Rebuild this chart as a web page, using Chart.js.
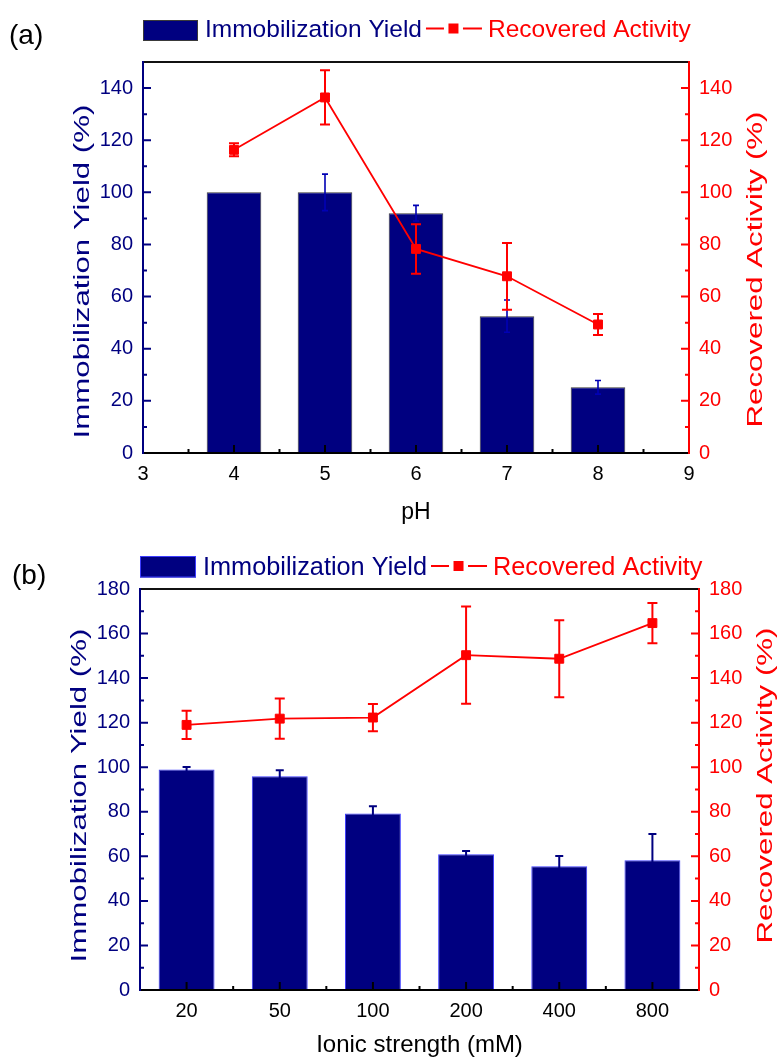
<!DOCTYPE html>
<html>
<head>
<meta charset="utf-8">
<script src="https://cdn.jsdelivr.net/npm/chart.js@4/dist/chart.umd.min.js"></script>
<style>
  html, body { margin: 0; padding: 0; background: #fff; }
  #wrap { position: relative; width: 779px; height: 1057px; }
  canvas { position: absolute; left: 0; }
  #chartA { top: 0; }
  #chartB { top: 530px; }
</style>
</head>
<body>
<div id="wrap">
  <canvas id="chartA" width="779" height="530"></canvas>
  <canvas id="chartB" width="779" height="527"></canvas>
</div>
<script>
// ---- Panel (a): effect of pH ----
const phValues = [4, 5, 6, 7, 8];
const phTicks = [3, 4, 5, 6, 7, 8, 9];
const phYield = [100, 100, 92, 52.5, 25.2];
const phYieldErr = [0, 7, 3, 6.2, 2.6];
const phActivity = [116.3, 136.4, 78.3, 67.8, 49.3];
const phActivityErr = [2.5, 10.4, 9.5, 12.8, 4];

// ---- Panel (b): effect of ionic strength ----
const ionicLabels = ['20', '50', '100', '200', '400', '800'];
const ionicYield = [99, 95.9, 79.2, 60.9, 55.5, 58.2];
const ionicYieldErr = [1.1, 2.7, 3.3, 1.5, 4.7, 11.8];
const ionicActivity = [119, 121.8, 122.3, 150.3, 148.7, 164.7];
const ionicActivityErr = [6.3, 9, 6.1, 21.8, 17.3, 9];

const NAVY = '#000080';
const RED = '#ff0000';
const FAMILY = '"Liberation Sans", Arial, Helvetica, sans-serif';

// Vertical error bars, drawn right after their own dataset
const errorBars = {
  id: 'errorBars',
  afterDatasetDraw(chart, args) {
    const ds = chart.data.datasets[args.index];
    if (!ds.errors) return;
    const meta = args.meta;
    const ys = chart.scales[meta.yAxisID];
    const ctx = chart.ctx;
    ctx.save();
    ctx.strokeStyle = ds.errorColor;
    ctx.lineWidth = ds.errorWidth;
    ctx.lineCap = 'butt';
    meta.data.forEach((el, i) => {
      const e = ds.errors[i];
      if (!e) return;
      const d = ds.data[i];
      const v = typeof d === 'object' ? d.y : d;
      const x = el.x;
      const top = ys.getPixelForValue(v + e);
      const bot = ys.getPixelForValue(v - e);
      const c = ds.capHalf;
      ctx.beginPath();
      ctx.moveTo(x, bot); ctx.lineTo(x, top);
      ctx.moveTo(x - c, top); ctx.lineTo(x + c, top);
      ctx.moveTo(x - c, bot); ctx.lineTo(x + c, bot);
      ctx.stroke();
    });
    ctx.restore();
  }
};

// Axis frame with inward major/minor ticks
const frame = {
  id: 'frame',
  afterDatasetsDraw(chart, args, o) {
    const ctx = chart.ctx;
    const a = chart.chartArea;
    const xs = chart.scales.x, yl = chart.scales.y, yr = chart.scales.y1;
    ctx.save();
    ctx.lineCap = 'butt';
    ctx.lineWidth = 2;
    const vTicks = (scale, x0, dir, color) => {
      ctx.strokeStyle = color;
      ctx.beginPath();
      for (let v = o.yMinor; v < scale.max; v += o.yMinor) {
        const py = scale.getPixelForValue(v);
        const len = (v % o.yMajor === 0) ? 8 : 4;
        ctx.moveTo(x0, py); ctx.lineTo(x0 + dir * len, py);
      }
      ctx.stroke();
    };
    vTicks(yl, a.left, 1, NAVY);
    vTicks(yr, a.right, -1, RED);
    ctx.strokeStyle = '#000';
    ctx.beginPath();
    o.xMajor.forEach(v => {
      const px = xs.getPixelForValue(v);
      ctx.moveTo(px, a.bottom); ctx.lineTo(px, a.bottom - 8);
    });
    o.xMinor.forEach(v => {
      const px = xs.getPixelForValue(v);
      ctx.moveTo(px, a.bottom); ctx.lineTo(px, a.bottom - 4);
    });
    ctx.stroke();
    // frame lines
    ctx.strokeStyle = '#111';
    ctx.beginPath();
    ctx.moveTo(a.left, a.top); ctx.lineTo(a.right, a.top);
    ctx.stroke();
    ctx.strokeStyle = '#000';
    ctx.beginPath();
    ctx.moveTo(a.left, a.bottom); ctx.lineTo(a.right, a.bottom);
    ctx.stroke();
    ctx.strokeStyle = NAVY;
    ctx.beginPath();
    ctx.moveTo(a.left, a.top - 1); ctx.lineTo(a.left, a.bottom + 1);
    ctx.stroke();
    ctx.strokeStyle = RED;
    ctx.beginPath();
    ctx.moveTo(a.right, a.top - 1); ctx.lineTo(a.right, a.bottom + 1);
    ctx.stroke();
    ctx.restore();
  }
};

// Panel label, legend row and axis titles
const deco = {
  id: 'deco',
  afterDraw(chart, args, o) {
    const ctx = chart.ctx;
    const a = chart.chartArea;
    const bar = chart.data.datasets.find(d => d.type === 'bar');
    const line = chart.data.datasets.find(d => d.type === 'line');
    ctx.save();
    // panel label
    ctx.fillStyle = '#000';
    ctx.font = `28px ${FAMILY}`;
    ctx.textBaseline = 'alphabetic';
    ctx.textAlign = 'left';
    ctx.fillText(o.panel, o.panelX, o.panelY);

    // legend
    const L = o.legend;
    ctx.fillStyle = bar.backgroundColor;
    ctx.fillRect(a.left, L.boxTop, L.boxW, L.boxH);
    ctx.strokeStyle = bar.borderColor;
    ctx.lineWidth = 1;
    ctx.strokeRect(a.left + 0.5, L.boxTop + 0.5, L.boxW - 1, L.boxH - 1);
    ctx.font = `${L.size}px ${FAMILY}`;
    let x = a.left + L.boxW + 7;
    ctx.fillStyle = NAVY;
    ctx.fillText(bar.label, x, L.baseline);
    x += ctx.measureText(bar.label).width + 4;
    ctx.strokeStyle = RED;
    ctx.lineWidth = 2;
    ctx.beginPath();
    ctx.moveTo(x, L.lineY); ctx.lineTo(x + 18, L.lineY);
    ctx.moveTo(x + 37, L.lineY); ctx.lineTo(x + 56, L.lineY);
    ctx.stroke();
    ctx.fillStyle = RED;
    ctx.fillRect(x + 22.5, L.lineY - 5, 10, 10);
    x += 62;
    ctx.fillText(line.label, x, L.baseline);

    // bottom title
    ctx.fillStyle = '#000';
    ctx.font = `${o.xTitleSize}px ${FAMILY}`;
    ctx.textAlign = 'center';
    ctx.fillText(o.xTitle, (a.left + a.right) / 2, o.xTitleY);

    // side titles, reading bottom to top
    const side = (text, color, bx, cy) => {
      ctx.save();
      ctx.translate(bx, cy);
      ctx.rotate(-Math.PI / 2);
      ctx.scale(1.42, 1);
      ctx.fillStyle = color;
      ctx.font = `22px ${FAMILY}`;
      ctx.textAlign = 'center';
      ctx.textBaseline = 'alphabetic';
      ctx.fillText(text, 0, 0);
      ctx.restore();
    };
    const mid = (a.top + a.bottom) / 2;
    side('Immobilization Yield (%)', NAVY, o.leftTitleX, mid + o.leftTitleDy);
    side('Recovered Activity (%)', RED, o.rightTitleX, mid + o.rightTitleDy);
    ctx.restore();
  }
};

const tickFont = { family: FAMILY, size: 20 };

function yAxes(max, leftW, rightW) {
  const base = (pos, color, w) => ({
    position: pos,
    min: 0,
    max: max,
    grid: { display: false, drawTicks: false },
    border: { display: false },
    ticks: { stepSize: 20, includeBounds: false, color: color, font: tickFont, padding: 10 },
    afterFit: s => { s.width = w; }
  });
  return { y: base('left', NAVY, leftW), y1: base('right', RED, rightW) };
}

const half = arr => arr.slice(0, -1).map((v, i) => (v + arr[i + 1]) / 2);

// ---------- Chart (a) ----------
new Chart(document.getElementById('chartA'), {
  type: 'bar',
  data: {
    datasets: [
      {
        type: 'line', label: 'Recovered Activity', yAxisID: 'y1', order: 0,
        data: phValues.map((x, i) => ({ x: x, y: phActivity[i] })),
        errors: phActivityErr, errorColor: RED, errorWidth: 2, capHalf: 5,
        borderColor: RED, backgroundColor: RED, borderWidth: 1.8,
        pointStyle: 'rect', pointRadius: 6.3, pointBorderWidth: 1,
        pointBackgroundColor: RED, pointBorderColor: RED, tension: 0
      },
      {
        type: 'bar', label: 'Immobilization Yield', yAxisID: 'y', order: 1,
        data: phValues.map((x, i) => ({ x: x, y: phYield[i] })),
        errors: phYieldErr, errorColor: '#0000b4', errorWidth: 1.6, capHalf: 3,
        backgroundColor: NAVY, borderColor: '#3a3a3a', borderWidth: 1,
        barPercentage: 0.6, categoryPercentage: 1
      }
    ]
  },
  options: {
    responsive: false, animation: false, maintainAspectRatio: false,
    layout: { padding: { top: 62, left: 0, right: 0, bottom: 0 } },
    events: [],
    plugins: {
      legend: { display: false }, tooltip: { enabled: false }, title: { display: false },
      frame: { yMinor: 10, yMajor: 20, xMajor: phValues, xMinor: half(phTicks) },
      deco: {
        panel: '(a)', panelX: 9, panelY: 43.5,
        legend: { boxTop: 20, boxW: 55, boxH: 21, size: 24.5, baseline: 36.5, lineY: 28.5 },
        xTitle: 'pH', xTitleSize: 23, xTitleY: 518.5,
        leftTitleX: 88.5, leftTitleDy: 14, rightTitleX: 762, rightTitleDy: 12
      }
    },
    scales: Object.assign({
      x: {
        type: 'linear', min: 3, max: 9, offset: false,
        grid: { display: false, drawTicks: false },
        border: { display: false },
        ticks: { stepSize: 1, color: '#000', font: tickFont, padding: 9 },
        afterFit: s => { s.height = 77; }
      }
    }, yAxes(150, 143, 90))
  },
  plugins: [errorBars, frame, deco]
});

// ---------- Chart (b) ----------
new Chart(document.getElementById('chartB'), {
  type: 'bar',
  data: {
    labels: ionicLabels,
    datasets: [
      {
        type: 'line', label: 'Recovered Activity', yAxisID: 'y1', order: 0,
        data: ionicActivity,
        errors: ionicActivityErr, errorColor: RED, errorWidth: 2, capHalf: 5,
        borderColor: RED, backgroundColor: RED, borderWidth: 1.8,
        pointStyle: 'rect', pointRadius: 6.3, pointBorderWidth: 1,
        pointBackgroundColor: RED, pointBorderColor: RED, tension: 0
      },
      {
        type: 'bar', label: 'Immobilization Yield', yAxisID: 'y', order: 1,
        data: ionicYield,
        errors: ionicYieldErr, errorColor: NAVY, errorWidth: 2, capHalf: 4,
        backgroundColor: NAVY, borderColor: '#3c3cff', borderWidth: 1,
        barPercentage: 0.6, categoryPercentage: 1
      }
    ]
  },
  options: {
    responsive: false, animation: false, maintainAspectRatio: false,
    layout: { padding: { top: 59, left: 0, right: 0, bottom: 0 } },
    events: [],
    plugins: {
      legend: { display: false }, tooltip: { enabled: false }, title: { display: false },
      frame: {
        yMinor: 10, yMajor: 20,
        xMajor: ionicLabels.map((_, i) => i),
        xMinor: half(ionicLabels.map((_, i) => i))
      },
      deco: {
        panel: '(b)', panelX: 12, panelY: 53.5,
        legend: { boxTop: 26, boxW: 56, boxH: 21.5, size: 25.3, baseline: 44.5, lineY: 36 },
        xTitle: 'Ionic strength (mM)', xTitleSize: 24, xTitleY: 521.5,
        leftTitleX: 85.5, leftTitleDy: 6, rightTitleX: 772, rightTitleDy: -4
      }
    },
    scales: Object.assign({
      x: {
        type: 'category', offset: true,
        grid: { display: false, drawTicks: false, offset: true },
        border: { display: false },
        ticks: { color: '#000', font: tickFont, padding: 9 },
        afterFit: s => { s.height = 67; }
      }
    }, yAxes(180, 140, 80))
  },
  plugins: [errorBars, frame, deco]
});
</script>
</body>
</html>
